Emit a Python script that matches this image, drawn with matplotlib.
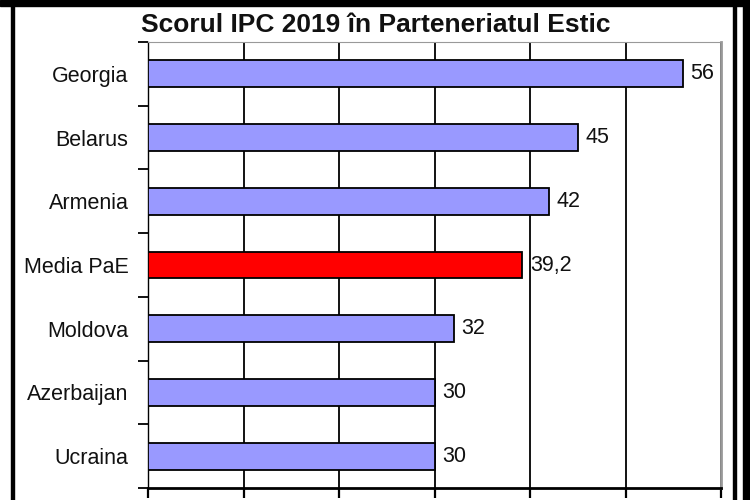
import matplotlib.pyplot as plt
from matplotlib.patches import Rectangle
from matplotlib.ticker import MultipleLocator, FixedLocator, NullFormatter

countries = ['Georgia', 'Belarus', 'Armenia', 'Media PaE', 'Moldova', 'Azerbaijan', 'Ucraina']
scores = [56, 45, 42, 39.2, 32, 30, 30]
score_labels = ['56', '45', '42', '39,2', '32', '30', '30']
title = 'Scorul IPC 2019 în Parteneriatul Estic'

plt.rcParams['font.family'] = ['Liberation Sans', 'DejaVu Sans']

fig = plt.figure(figsize=(7.5, 5), dpi=100)
ax = fig.add_axes([148 / 750, 12 / 500, (721 - 148) / 750, (488 - 42) / 500])

ypos = list(range(len(countries)))
colors = ['#FF0000' if c == 'Media PaE' else '#9999FF' for c in countries]
ax.barh(ypos, scores, height=0.42, color=colors, edgecolor='black', linewidth=1.3, zorder=3)

for y, v, lab in zip(ypos, scores, score_labels):
    ax.text(v + 0.8, y, lab, va='center', ha='left', fontsize=15.5, color='#111111')

ax.set_xlim(0, 60)
ax.set_ylim(len(countries) - 0.5, -0.5)
ax.xaxis.set_major_locator(MultipleLocator(10))
ax.xaxis.set_major_formatter(NullFormatter())
ax.grid(axis='x', color='black', linewidth=1.3, zorder=0)

ax.set_yticks(ypos)
ax.set_yticklabels(countries, fontsize=15.5, color='#111111')
ax.tick_params(axis='y', which='major', length=0, pad=14)
ax.yaxis.set_minor_locator(FixedLocator([i + 0.5 for i in range(-1, len(countries))]))
ax.tick_params(axis='y', which='minor', length=7, width=1.3, direction='out')
ax.tick_params(axis='x', which='major', length=7, width=1.6, direction='out')

ax.spines['top'].set_color('#999999')
ax.spines['right'].set_color('#999999')
ax.spines['right'].set_linewidth(2)
ax.spines['bottom'].set_linewidth(2)
ax.spines['left'].set_linewidth(1)

fig.text(376 / 750, 1 - 25 / 500, title, ha='center', va='center', fontsize=19, fontweight='bold', color='#111111')

# outer frame of the picture
fig.patches.append(Rectangle((0, 1 - 6 / 500), 1, 6 / 500, transform=fig.transFigure, color='black'))
fig.patches.append(Rectangle((11 / 750, 0), 3 / 750, 1, transform=fig.transFigure, color='black'))
fig.patches.append(Rectangle((733 / 750, 0), 3 / 750, 1, transform=fig.transFigure, color='black'))
fig.patches.append(Rectangle((743 / 750, 0), 7 / 750, 1, transform=fig.transFigure, color='black'))

fig.savefig('out.png', dpi=100)
